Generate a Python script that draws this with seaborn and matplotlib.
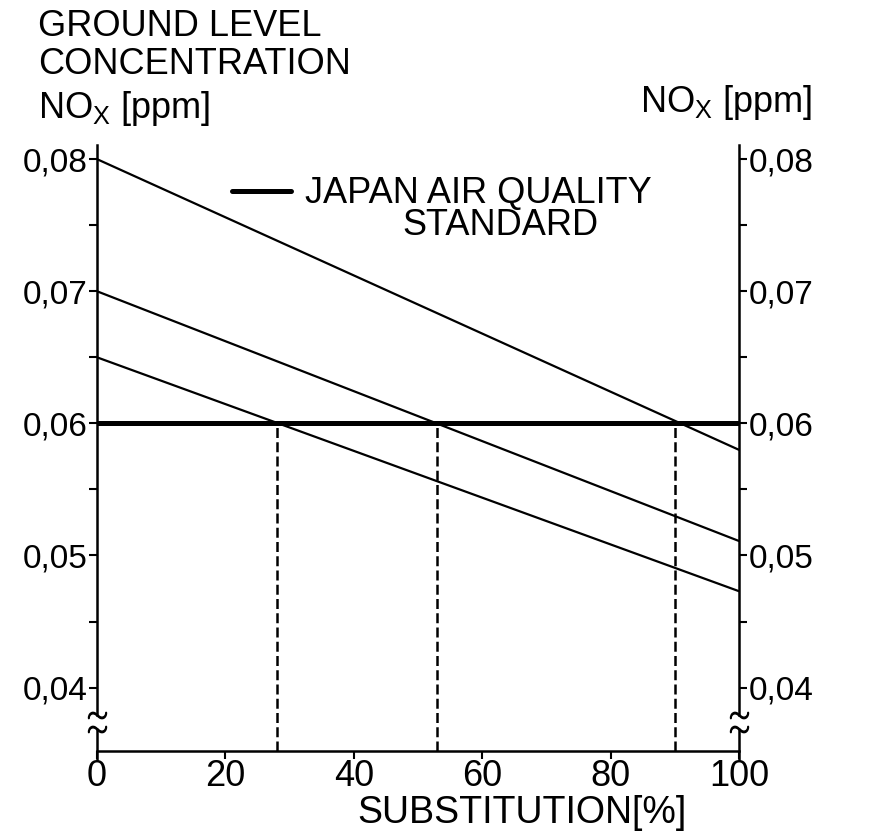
import numpy as np
import pandas as pd
import seaborn as sns
from matplotlib import pyplot as plt

# data
substitution = [0, 100]                 # %
nox_start = [0.080, 0.070, 0.065]       # ppm at 0 % substitution
nox_end = [0.0580, 0.0511, 0.0473]      # ppm at 100 % substitution
std_level = 0.06                        # Japan air quality standard
crossings = [28, 53, 90]                # % where each case meets the standard

x_ticks = [0, 20, 40, 60, 80, 100]
x_labels = ["0", "20", "40", "60", "80", "100"]
y_ticks = [0.04, 0.05, 0.06, 0.07, 0.08]
y_labels = ["0,04", "0,05", "0,06", "0,07", "0,08"]
y_minor = [0.045, 0.055, 0.065, 0.075]

y_lo, y_hi = 0.0352, 0.0811
brk_hi, brk_lo = 0.0379, 0.0369

rows = []
for i in range(len(nox_start)):
    rows.append({"case": i, "substitution": substitution[0], "nox": nox_start[i]})
    rows.append({"case": i, "substitution": substitution[1], "nox": nox_end[i]})
df = pd.DataFrame(rows)

sns.set_style("ticks")
plt.rcParams['font.family'] = ['Liberation Sans', 'DejaVu Sans']
plt.rcParams['mathtext.fontset'] = 'custom'
plt.rcParams['mathtext.rm'] = 'Liberation Sans'
plt.rcParams['axes.linewidth'] = 1.8
for k in ['text.color', 'axes.labelcolor', 'xtick.color', 'ytick.color',
          'axes.edgecolor']:
    plt.rcParams[k] = 'black'

fig = plt.figure(figsize=(8.94, 8.33), dpi=100)
ax = fig.add_axes([0.1085, 0.0984, 0.718, 0.728])

sns.lineplot(data=df, x="substitution", y="nox", units="case", estimator=None,
             color="black", linewidth=1.6, ax=ax, legend=False)
sns.lineplot(x=substitution, y=[std_level] * len(substitution), color="black",
             linewidth=3.6, ax=ax, label="JAPAN AIR QUALITY")
ax.vlines(crossings, y_lo, std_level, colors="black", linewidth=1.8,
          linestyles=(0, (4, 1.7)))

ax.set_xlim(0, 100)
ax.set_ylim(y_lo, y_hi)
ax.set_xticks(x_ticks)
ax.set_xticklabels(x_labels)
ax.set_yticks(y_ticks)
ax.set_yticklabels(y_labels)
ax.set_yticks(y_minor, minor=True)
ax.tick_params(axis="y", which="both", direction="out", length=6, width=1.5,
               pad=1, labelsize=24)
ax.tick_params(axis="x", direction="out", length=6, width=1.5, pad=0,
               labelsize=26)
ax.set_xlabel("SUBSTITUTION[%]", fontsize=27)
ax.xaxis.set_label_coords(0.662, -0.072)
ax.set_ylabel("")

ax.spines["top"].set_visible(False)
ax.spines["right"].set_visible(False)
ax.spines["left"].set_bounds(brk_hi, y_hi)

ax2 = ax.twinx()
ax2.set_ylim(y_lo, y_hi)
ax2.set_yticks(y_ticks)
ax2.set_yticklabels(y_labels)
ax2.set_yticks(y_minor, minor=True)
ax2.tick_params(axis="y", which="both", direction="out", length=6, width=1.5,
                pad=1, labelsize=24)
for s in ["top", "left", "bottom"]:
    ax2.spines[s].set_visible(False)
ax2.spines["right"].set_bounds(brk_hi, y_hi)

# axis breaks on both vertical axes
for xb in [0, 100]:
    ax.plot([xb, xb], [y_lo - 0.0007, brk_lo], color="black", lw=1.8,
            clip_on=False)
    ax.plot([xb], [brk_hi], marker="$\\sim$", ms=13, color="black",
            clip_on=False)
    ax.plot([xb], [brk_lo], marker="$\\sim$", ms=13, color="black",
            clip_on=False)

leg = ax.legend(loc="center left", bbox_to_anchor=(0.21, 0.919), frameon=False,
                fontsize=26, handlelength=1.65, handletextpad=0.38,
                borderpad=0, borderaxespad=0)
ax.text(0.628, 0.866, "STANDARD", transform=ax.transAxes, ha="center",
        va="center", fontsize=26)

fig.text(0.0425, 0.989, "GROUND LEVEL\nCONCENTRATION", ha="left", va="top",
         fontsize=26, linespacing=1.12)
fig.text(0.0425, 1 - 108 / 833, "NO$_\\mathrm{X}$ [ppm]", ha="left",
         va="center", fontsize=26)
fig.text(0.716, 1 - 103 / 833, "NO$_\\mathrm{X}$ [ppm]", ha="left",
         va="center", fontsize=26)

fig.savefig("out.png", dpi=100)
